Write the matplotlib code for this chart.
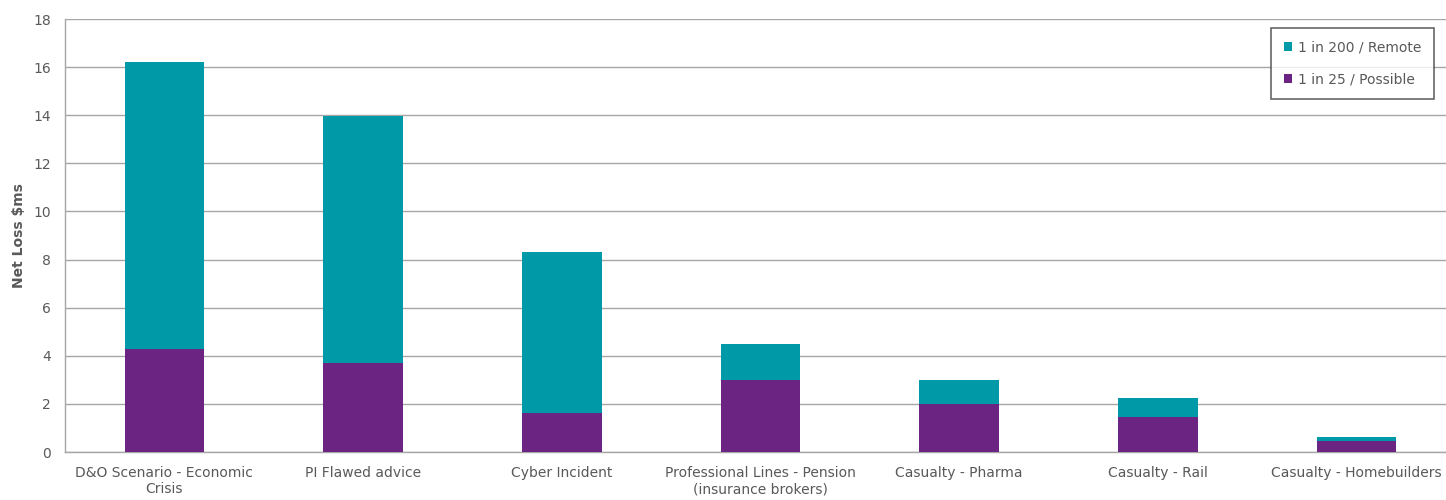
import matplotlib
matplotlib.use("Agg")
from matplotlib import pyplot as plt
import numpy as np

categories = ["D&O Scenario - Economic\nCrisis", "PI Flawed advice", "Cyber Incident",
              "Professional Lines - Pension\n(insurance brokers)", "Casualty - Pharma",
              "Casualty - Rail", "Casualty - Homebuilders"]
remote_200 = [16.2, 13.95, 8.3, 4.5, 3.0, 2.25, 0.62]
possible_25 = [4.3, 3.7, 1.63, 3.0, 2.0, 1.47, 0.46]

teal = "#0099a8"
purple = "#6c2483"
text_grey = "#595959"

fig = plt.figure(figsize=(14.46, 5), dpi=100)
ax = fig.add_axes([65 / 1446, 48 / 500, 1391 / 1446, 433 / 500])

x = np.arange(len(categories))
ax.bar(x, remote_200, width=0.4, color=teal, label="1 in 200 / Remote", zorder=3)
ax.bar(x, possible_25, width=0.4, color=purple, label="1 in 25 / Possible", zorder=4)

ax.set_xlim(-0.5, len(categories) - 0.5)
ax.set_ylim(0, 18)
ax.set_yticks(range(0, 19, 2))
ax.set_xticks(x)
ax.set_xticklabels(categories, fontsize=10, color=text_grey)
ax.tick_params(axis="y", labelsize=10, colors=text_grey, length=0, pad=10)
ax.tick_params(axis="x", length=0, pad=10)
ax.grid(axis="y", color="#a6a6a6", linewidth=1, zorder=0)
ax.set_axisbelow(True)

for s in ["top", "right"]:
    ax.spines[s].set_visible(False)
for s in ["left", "bottom"]:
    ax.spines[s].set_color("#a6a6a6")
    ax.spines[s].set_linewidth(1)

ax.set_ylabel("Net Loss $ms", fontsize=10, fontweight="bold", color=text_grey, labelpad=5)

leg = ax.legend(loc="upper right", bbox_to_anchor=(0.984, 0.979), borderaxespad=0,
                fontsize=10, frameon=True, fancybox=False, handlelength=0.6, handleheight=0.6,
                handletextpad=0.4, borderpad=0.9, labelspacing=1.3, labelcolor=text_grey)
leg.get_frame().set_edgecolor("#404040")
leg.get_frame().set_linewidth(1.2)

fig.savefig("out.png", dpi=100)
